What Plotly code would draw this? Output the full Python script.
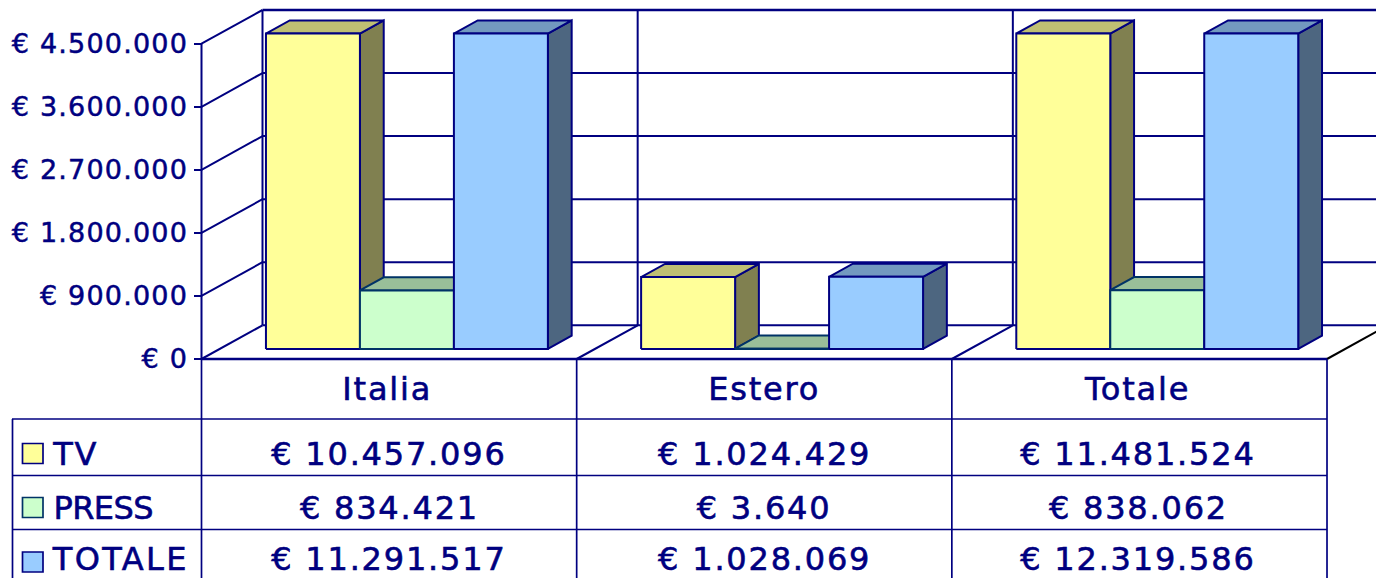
import plotly.graph_objects as go

W, H = 1376, 578
categories = ["Italia", "Estero", "Totale"]
series_names = ["TV", "PRESS", "TOTALE"]
tv_values = [10457096, 1024429, 11481524]
press_values = [834421, 3640, 838062]
totale_values = [11291517, 1028069, 12319586]
series_values = [tv_values, press_values, totale_values]
tick_values = [0, 900000, 1800000, 2700000, 3600000, 4500000]
tick_labels = ["€ 0", "€ 900.000", "€ 1.800.000", "€ 2.700.000", "€ 3.600.000", "€ 4.500.000"]
table_rows = [
    ["€ 10.457.096", "€ 1.024.429", "€ 11.481.524"],
    ["€ 834.421", "€ 3.640", "€ 838.062"],
    ["€ 11.291.517", "€ 1.028.069", "€ 12.319.586"],
]

NAVY = "#000080"
front_colors = ["#FFFF99", "#CCFFCC", "#99CCFF"]
top_colors = ["#BFBF73", "#99BF99", "#7399BF"]
side_colors = ["#808050", "#668066", "#4D6680"]
edge_colors = [NAVY, "#003366", NAVY]

# axis frame
X0, CAT_W = 201.5, 375.17
Y0, V_SPAN = 359.0, 315.3
AXIS_MAX = 4500000
VPP = AXIS_MAX / V_SPAN
DEPTH_X = 61 / CAT_W
DEPTH_Y = 33.7 * VPP
BAR_NEAR, BAR_FAR = 0.30, 0.69
BAR_W, BAR_GAP = 0.2505, 0.123
LW = 2.0


def px(x):
    return x / W


def py(y):
    return 1 - y / H


fig = go.Figure()


def line(xs, ys, color=NAVY, width=LW):
    fig.add_trace(go.Scatter(x=xs, y=ys, mode="lines", hoverinfo="skip", showlegend=False,
                             line=dict(color=color, width=width)))


def poly(xs, ys, fill, edge):
    fig.add_trace(go.Scatter(x=xs + xs[:1], y=ys + ys[:1], mode="lines", fill="toself", fillcolor=fill,
                             hoverinfo="skip", showlegend=False,
                             line=dict(color=edge, width=LW, simplify=False)))


x_end = 3 + DEPTH_X + 0.2
# back wall gridlines and side wall
for v in tick_values:
    line([DEPTH_X, x_end], [v + DEPTH_Y, v + DEPTH_Y], width=LW if v != AXIS_MAX else 2.4)
    line([0, DEPTH_X], [v, v + DEPTH_Y])
for c in range(3):
    line([c + DEPTH_X, c + DEPTH_X], [DEPTH_Y, AXIS_MAX + DEPTH_Y])
    if c > 0:
        line([c, c + DEPTH_X], [0, DEPTH_Y])
line([3, 3 + DEPTH_X], [0, DEPTH_Y], color="#000000", width=2)
line([0, 3], [0, 0], width=2.4)
line([0, 0], [0, AXIS_MAX])

# bars
for c in range(3):
    for s in range(3):
        v = min(series_values[s][c], AXIS_MAX)
        xl = c + BAR_GAP + BAR_NEAR * DEPTH_X + s * BAR_W
        xr = xl + BAR_W
        dxb = (BAR_FAR - BAR_NEAR) * DEPTH_X
        yb = BAR_NEAR * DEPTH_Y
        yt = v + yb
        dyb = (BAR_FAR - BAR_NEAR) * DEPTH_Y
        poly([xr, xr + dxb, xr + dxb, xr], [yb, yb + dyb, yt + dyb, yt], side_colors[s], edge_colors[s])
        poly([xl, xr, xr + dxb, xl + dxb], [yt, yt, yt + dyb, yt + dyb], top_colors[s], edge_colors[s])
        poly([xl, xr, xr, xl], [yb, yb, yt, yt], front_colors[s], edge_colors[s])

# data table
shapes = []
for y_line in [419, 475.5, 529.5]:
    shapes.append(dict(type="line", xref="paper", yref="paper", x0=px(12), x1=px(1327), y0=py(y_line), y1=py(y_line),
                       line=dict(color=NAVY, width=1.7)))
shapes.append(dict(type="line", xref="paper", yref="paper", x0=px(12.5), x1=px(12.5), y0=py(419), y1=0,
                   line=dict(color=NAVY, width=1.7)))
shapes.append(dict(type="line", xref="paper", yref="paper", x0=px(X0), x1=px(X0), y0=py(359), y1=0,
                   line=dict(color=NAVY, width=1.7)))
for c in range(1, 4):
    shapes.append(dict(type="line", xref="x", yref="paper", x0=c, x1=c, y0=py(359), y1=0,
                       line=dict(color=NAVY, width=1.7)))

annotations = []
row_y = [453.5, 507.5, 559]
swatch_y = [453.5, 507.5, 562]
label_x = [52, 49.5, 57]
cell_x = [0.5, 0.4995, 0.4975]
for r, name in enumerate(series_names):
    shapes.append(dict(type="rect", xref="paper", yref="paper", x0=px(22.5), x1=px(43), y0=py(swatch_y[r] + 10),
                       y1=py(swatch_y[r] - 10), fillcolor=front_colors[r], line=dict(color=edge_colors[r], width=1.7)))
    annotations.append(dict(xref="paper", yref="paper", x=px(label_x[r]), y=py(row_y[r]), text=name, showarrow=False,
                            xanchor="left", yanchor="middle", font=dict(family="DejaVu Sans", size=32, color=NAVY)))
    for c in range(3):
        annotations.append(dict(xref="x", yref="paper", x=c + cell_x[c], y=py(row_y[r]), text=table_rows[r][c], showarrow=False,
                                xanchor="center", yanchor="middle", font=dict(family="DejaVu Sans", size=32, color=NAVY)))

fig.update_layout(
    width=W, height=H, margin=dict(l=0, r=0, t=0, b=0), autosize=False,
    paper_bgcolor="white", plot_bgcolor="white", showlegend=False,
    shapes=shapes, annotations=annotations,
    xaxis=dict(domain=[0, 1], range=[-X0 / CAT_W, (W - X0) / CAT_W], anchor="free", position=py(Y0),
               showgrid=False, zeroline=False, showline=False, ticks="",
               tickmode="array", tickvals=[0.495, 1.5, 2.495], ticktext=categories,
               ticklabelstandoff=8, tickfont=dict(family="DejaVu Sans", size=32, color=NAVY)),
    yaxis=dict(domain=[0, 1], range=[-(H - Y0) * VPP, Y0 * VPP], anchor="free", position=px(X0),
               showgrid=False, zeroline=False, showline=False, ticks="outside", ticklen=8, tickwidth=2, tickcolor=NAVY,
               tickmode="array", tickvals=tick_values, ticktext=tick_labels,
               tickfont=dict(family="DejaVu Sans", size=27, color=NAVY)),
)

post = """
document.documentElement.style.margin='0';document.body.style.margin='0';document.body.style.overflow='hidden';
document.querySelectorAll('.xtick text, .annotation text').forEach(function(t){
  var s=t.textContent; t.style.letterSpacing = s==='PRESS' ? '-0.6px' : (s==='TOTALE' ? '2.4px' : '1.8px');
  t.style.stroke='#000080'; t.style.strokeWidth='0.6px';});
document.querySelectorAll('.ytick text').forEach(function(t){t.style.letterSpacing='1.2px';
  t.style.stroke='#000080'; t.style.strokeWidth='0.5px';});
"""
fig.write_html("out.html", post_script=post, config={"displayModeBar": False})
